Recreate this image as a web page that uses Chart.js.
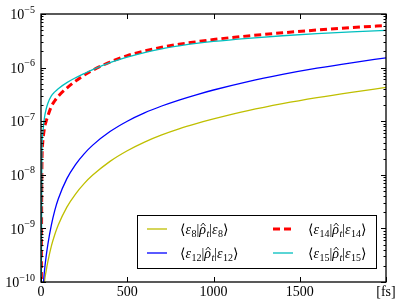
<!DOCTYPE html>
<html>
<head>
<meta charset="utf-8">
<script src="https://cdn.jsdelivr.net/npm/chart.js@4.4.1/dist/chart.umd.min.js"></script>
<style>
body { margin: 0; background: #fff; }
canvas { display: block; }
</style>
</head>
<body>
<canvas id="popChart" width="407" height="305"></canvas>
<script>
// time in fs, populations (t=0 sits below the axis)
const times = [0, 5, 10, 20, 30, 40, 60, 80, 100, 150, 200, 250, 300, 400, 500, 600, 700, 800, 900, 1000, 1200, 1400, 1600, 1800, 2000];
const eps8  = [1e-12, 1e-11, 3.5e-11, 1.0e-10, 1.62e-10, 2.42e-10, 4.67e-10, 7.7e-10, 1.16e-9, 2.5e-9, 4.38e-9, 6.85e-9, 9.87e-9, 1.78e-8, 2.81e-8, 4.08e-8, 5.55e-8, 7.2e-8, 9.0e-8, 1.1e-7, 1.57e-7, 2.12e-7, 2.75e-7, 3.46e-7, 4.27e-7];
const eps12 = [1e-12, 2e-11, 6e-11, 1.59e-10, 3.04e-10, 5.1e-10, 1.15e-9, 2.17e-9, 3.54e-9, 8.47e-9, 1.55e-8, 2.46e-8, 3.58e-8, 6.4e-8, 1.0e-7, 1.43e-7, 1.92e-7, 2.48e-7, 3.11e-7, 3.82e-7, 5.49e-7, 7.46e-7, 9.74e-7, 1.23e-6, 1.52e-6];
const eps14 = [1e-12, 1.24e-8, 3.92e-8, 7.4e-8, 1.0e-7, 1.26e-7, 1.88e-7, 2.41e-7, 2.92e-7, 4.16e-7, 5.6e-7, 7.22e-7, 8.94e-7, 1.27e-6, 1.67e-6, 2.04e-6, 2.40e-6, 2.73e-6, 3.03e-6, 3.34e-6, 3.90e-6, 4.46e-6, 5.02e-6, 5.57e-6, 6.10e-6];
const eps15 = [1e-12, 2.37e-8, 5.83e-8, 1.16e-7, 1.69e-7, 2.17e-7, 2.97e-7, 3.52e-7, 4.05e-7, 5.25e-7, 6.45e-7, 7.73e-7, 9.2e-7, 1.24e-6, 1.57e-6, 1.91e-6, 2.24e-6, 2.54e-6, 2.83e-6, 3.08e-6, 3.52e-6, 3.93e-6, 4.30e-6, 4.65e-6, 4.97e-6];

const xTicks = [0, 500, 1000, 1500, 2000];
const xTickLabels = ['0', '500', '1000', '1500', '[fs]'];
const yTicks = [1e-10, 1e-9, 1e-8, 1e-7, 1e-6, 1e-5];

const serif = '"Liberation Serif", "DejaVu Serif", serif';

function pts(vals) {
    return times.map(function(t, i) { return { x: t, y: vals[i] }; });
}

// small rich-text writer for the math labels
// kinds: n normal, i italic, s subscript, si italic subscript, h italic with hat
function drawMath(ctx, parts, x, y) {
    ctx.textBaseline = 'alphabetic';
    ctx.textAlign = 'left';
    parts.forEach(function(p) {
        const txt = p[0], kind = p[1];
        let font = '14px ' + serif, dy = 0;
        if (kind === 'i' || kind === 'h') font = 'italic 14px ' + serif;
        if (kind === 's') { font = '10px ' + serif; dy = 3; }
        if (kind === 'si') { font = 'italic 10px ' + serif; dy = 3; }
        ctx.font = font;
        ctx.fillText(txt, x, y + dy);
        const w = ctx.measureText(txt).width;
        if (kind === 'h') {
            ctx.beginPath();
            ctx.lineWidth = 0.8;
            ctx.moveTo(x + 1.5, y - 8);
            ctx.lineTo(x + w / 2 + 0.5, y - 11);
            ctx.lineTo(x + w - 0.5, y - 8);
            ctx.stroke();
        }
        x += w + (kind === 'i' || kind === 'h' ? 0.5 : 0);
    });
}

function label(sub) {
    return [['\u27E8', 'n'], ['\u03B5', 'i'], [sub, 's'], ['|', 'n'], ['\u03C1', 'h'], ['t', 'si'],
            ['|', 'n'], ['\u03B5', 'i'], [sub, 's'], ['\u27E9', 'n']];
}

const axesPlugin = {
    id: 'axesPlugin',
    afterDraw(chart) {
        const ctx = chart.ctx;
        const a = chart.chartArea;
        const xs = chart.scales.x, ys = chart.scales.y;
        ctx.save();
        ctx.strokeStyle = '#000';
        ctx.fillStyle = '#000';

        // ticks pointing inward on all four sides
        ctx.lineWidth = 1;
        ctx.beginPath();
        xTicks.forEach(function(v) {
            const px = Math.round(xs.getPixelForValue(v)) + 0.5;
            ctx.moveTo(px, a.bottom); ctx.lineTo(px, a.bottom - 5);
            ctx.moveTo(px, a.top); ctx.lineTo(px, a.top + 5);
        });
        for (let k = -10; k <= -5; k++) {
            for (let m = 1; m <= 9; m++) {
                const v = m * Math.pow(10, k);
                if (v > 1.0001e-5) break;
                const py = Math.round(ys.getPixelForValue(v)) + 0.5;
                const len = m === 1 ? 5 : 2.5;
                ctx.moveTo(a.left, py); ctx.lineTo(a.left + len, py);
                ctx.moveTo(a.right, py); ctx.lineTo(a.right - len, py);
            }
        }
        ctx.stroke();

        // frame
        ctx.lineWidth = 1.3;
        ctx.strokeRect(a.left, a.top, a.right - a.left, a.bottom - a.top);

        // x tick labels
        ctx.font = '14px ' + serif;
        ctx.textAlign = 'center';
        ctx.textBaseline = 'middle';
        xTicks.forEach(function(v, i) {
            ctx.fillText(xTickLabels[i], xs.getPixelForValue(v), a.bottom + 10);
        });

        // y tick labels 10^k
        yTicks.forEach(function(v) {
            const py = ys.getPixelForValue(v);
            const ex = '\u2212' + Math.round(-Math.log10(v));
            ctx.font = '10px ' + serif;
            const we = ctx.measureText(ex).width;
            ctx.font = '14px ' + serif;
            const wb = ctx.measureText('10').width;
            const x0 = 35 - we - wb;
            ctx.textAlign = 'left';
            ctx.fillText('10', x0, py + 1.5);
            ctx.font = '10px ' + serif;
            ctx.fillText(ex, x0 + wb, py - 4);
        });

        // legend
        const bx = 137.5, by = 215.5, bw = 239, bh = 53;
        ctx.fillStyle = '#fff';
        ctx.fillRect(bx, by, bw, bh);
        ctx.lineWidth = 1;
        ctx.strokeStyle = '#000';
        ctx.strokeRect(bx, by, bw, bh);
        const entries = [
            { sub: '8',  color: '#bfbf00', width: 1.3, dash: [], lx: 147, tx: 180, y: 229 },
            { sub: '12', color: '#0000ff', width: 1.3, dash: [], lx: 147, tx: 180, y: 253 },
            { sub: '14', color: '#ff0000', width: 3,   dash: [7, 4], lx: 273, tx: 308, y: 229 },
            { sub: '15', color: '#00bfbf', width: 1.3, dash: [], lx: 273, tx: 308, y: 253 }
        ];
        entries.forEach(function(e) {
            ctx.save();
            ctx.strokeStyle = e.color;
            ctx.lineWidth = e.width;
            ctx.setLineDash(e.dash);
            ctx.beginPath();
            ctx.moveTo(e.lx, e.y); ctx.lineTo(e.lx + 20, e.y);
            ctx.stroke();
            ctx.restore();
            ctx.fillStyle = '#000';
            ctx.strokeStyle = '#000';
            drawMath(ctx, label(e.sub), e.tx, e.y + 5);
        });
        ctx.restore();
    }
};

new Chart(document.getElementById('popChart'), {
    type: 'line',
    data: {
        datasets: [
            { label: 'eps8', data: pts(eps8), borderColor: '#bfbf00', borderWidth: 1.3, order: 3 },
            { label: 'eps12', data: pts(eps12), borderColor: '#0000ff', borderWidth: 1.3, order: 2 },
            { label: 'eps14', data: pts(eps14), borderColor: '#ff0000', borderWidth: 3, borderDash: [7, 4], order: 1 },
            { label: 'eps15', data: pts(eps15), borderColor: '#00bfbf', borderWidth: 1.3, order: 0 }
        ]
    },
    options: {
        responsive: false,
        animation: false,
        devicePixelRatio: 1,
        layout: { padding: { left: 41, right: 21, top: 14, bottom: 23 } },
        elements: {
            point: { radius: 0 },
            line: { cubicInterpolationMode: 'monotone', fill: false }
        },
        scales: {
            x: { type: 'linear', min: 0, max: 2000, display: false },
            y: { type: 'logarithmic', min: 1e-10, max: 1e-5, display: false }
        },
        plugins: {
            legend: { display: false },
            tooltip: { enabled: false }
        }
    },
    plugins: [axesPlugin]
});
</script>
</body>
</html>
